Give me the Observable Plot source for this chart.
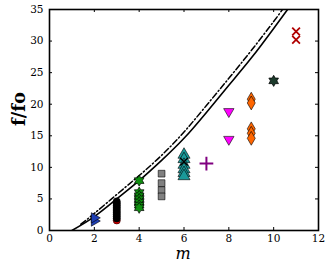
<!DOCTYPE html>
<html><head><meta charset="utf-8">
<script src="https://cdn.jsdelivr.net/npm/d3@7"></script>
<script src="https://cdn.jsdelivr.net/npm/@observablehq/plot@0.6"></script>
<style>body{margin:0;background:#fff} svg{display:block}</style>
</head><body><div id="chart"></div>
<script>
// theoretical curves
const mSolid = [1, 2, 3, 4, 5, 6, 7, 8, 9, 10, 10.62];
const fSolid = [0, 2.2, 5.0, 7.9, 11.1, 14.6, 18.7, 23.0, 27.3, 32.0, 35];
const mDash = [1.4, 2, 3, 4, 5, 6, 7, 8, 9, 10, 10.39];
const fDash = [1.0, 2.7, 5.7, 8.7, 11.9, 15.6, 19.8, 24.1, 28.5, 33.1, 35];

// measured points per mode number m
const modes = [2, 3, 4, 5, 6, 7, 8, 9, 10, 11];
const fBlue = [1.5, 2.0];
const fRed3 = [1.6];
const fBlack3 = [1.9, 2.2, 2.5, 2.8, 3.1, 3.4, 3.7, 4.0, 4.3, 4.6];
const fGreen4 = [7.9, 6.0, 5.5, 5.0, 4.5, 4.0, 3.6];
const fGray5 = [9.0, 7.5, 6.4, 5.4];
const fTeal6 = [12.0, 11.3, 10.4, 9.7, 9.1, 8.6];
const fBlack6 = [10.9];
const fPurple7 = [10.6];
const fMagenta8 = [18.8, 14.4];
const fOrange9 = [20.8, 20.2, 16.1, 15.4, 14.6];
const fDark10 = [23.7];
const fRed11 = [31.5, 30.2];

const xTicks = [0, 2, 4, 6, 8, 10, 12];
const yTicks = [0, 5, 10, 15, 20, 25, 30, 35];

function poly(pts) {
  return {draw(ctx, size) {
    const s = Math.sqrt(size);
    pts.forEach(([a, b], i) => i ? ctx.lineTo(a * s, b * s) : ctx.moveTo(a * s, b * s));
    ctx.closePath();
  }};
}
const triRight = poly([[0.75, 0], [-0.375, 0.65], [-0.375, -0.65]]);
const triDown = poly([[0, 0.72], [0.65, -0.4], [-0.65, -0.4]]);
const hexPts = [];
for (let i = 0; i < 12; i++) {
  const a = -Math.PI / 2 + i * Math.PI / 6;
  const r = i % 2 ? 0.7 / Math.sqrt(3) : 0.7;
  hexPts.push([r * Math.cos(a), r * Math.sin(a)]);
}
const hexagram = poly(hexPts);

const col = (vals, m) => vals.map(v => ({m, f: v}));
const curveS = mSolid.map((m, i) => ({m, f: fSolid[i]}));
const curveD = mDash.map((m, i) => ({m, f: fDash[i]}));

const W = 332, H = 265, ML = 49, MR = 14, MT = 9, MB = 35, TK = 3;
const innerW = W - ML - MR, innerH = H - MT - MB;

const chart = Plot.plot({
  width: W, height: H,
  marginLeft: ML, marginRight: MR, marginTop: MT, marginBottom: MB,
  x: {domain: [0, 12]},
  y: {domain: [0, 35]},
  style: {fontFamily: "DejaVu Serif", fontSize: "10.5px", color: "black", background: "white"},
  marks: [
    Plot.line(curveD, {x: "m", y: "f", curve: "natural", stroke: "black", strokeWidth: 1.5, strokeDasharray: "6,2.5,1.2,2.5", clip: true}),
    Plot.line(curveS, {x: "m", y: "f", curve: "natural", stroke: "black", strokeWidth: 1.6, clip: true}),
    Plot.dot(col(fBlue, modes[0]), {x: "m", y: "f", symbol: triRight, r: 4.5, fill: "#1f3fb4", stroke: "black", strokeWidth: 0.6}),
    Plot.dot(col(fRed3, modes[1]), {x: "m", y: "f", r: 3.6, fill: "#e00000", stroke: "black", strokeWidth: 0.5}),
    Plot.dot(col(fBlack3, modes[1]), {x: "m", y: "f", r: 3.6, fill: "black", stroke: "black", strokeWidth: 0.5}),
    Plot.dot(col(fGreen4, modes[2]), {x: "m", y: "f", symbol: hexagram, r: 4.5, fill: "#109010", stroke: "black", strokeWidth: 0.7}),
    Plot.dot(col(fGray5, modes[3]), {x: "m", y: "f", symbol: "square", r: 3.8, fill: "#808080", stroke: "black", strokeWidth: 0.6}),
    Plot.dot(col(fTeal6, modes[4]), {x: "m", y: "f", symbol: "triangle", r: 4.5, fill: "#1a9999", stroke: "black", strokeWidth: 0.6}),
    Plot.dot(col(fBlack6, modes[4]), {x: "m", y: "f", symbol: "times", r: 3.5, stroke: "black", strokeWidth: 1.4}),
    Plot.dot(col(fPurple7, modes[5]), {x: "m", y: "f", symbol: "plus", r: 4.5, stroke: "#800080", strokeWidth: 2}),
    Plot.dot(col(fMagenta8, modes[6]), {x: "m", y: "f", symbol: triDown, r: 4.5, fill: "#ff00ff", stroke: "black", strokeWidth: 0.6}),
    Plot.dot(col(fOrange9, modes[7]), {x: "m", y: "f", symbol: "diamond", r: 4.2, fill: "#ff6600", stroke: "black", strokeWidth: 0.6}),
    Plot.dot(col(fDark10, modes[8]), {x: "m", y: "f", symbol: hexagram, r: 4.5, fill: "#1c3b2c", stroke: "black", strokeWidth: 0.7}),
    Plot.dot(col(fRed11, modes[9]), {x: "m", y: "f", symbol: "times", r: 3.6, stroke: "#b00000", strokeWidth: 1.8}),
    // inward tick marks on all four sides
    Plot.ruleX(xTicks, {x: d => d, insetTop: innerH - TK, stroke: "black", strokeWidth: 1}),
    Plot.ruleX(xTicks, {x: d => d, insetBottom: innerH - TK, stroke: "black", strokeWidth: 1}),
    Plot.ruleY(yTicks, {y: d => d, insetRight: innerW - TK, stroke: "black", strokeWidth: 1}),
    Plot.ruleY(yTicks, {y: d => d, insetLeft: innerW - TK, stroke: "black", strokeWidth: 1}),
    Plot.frame({stroke: "black", strokeWidth: 1.6}),
    Plot.axisX({ticks: xTicks, anchor: "bottom", tickSize: 0, tickPadding: 4, label: null, fontSize: 10.5}),
    Plot.axisY({ticks: yTicks, anchor: "left", tickSize: 0, tickPadding: 6, label: null, fontSize: 10.5})
  ]
});
document.getElementById("chart").appendChild(chart);

const svg = d3.select(chart);
svg.append("text")
  .attr("transform", "translate(25,109) rotate(-90)")
  .attr("text-anchor", "middle")
  .attr("font-family", "DejaVu Serif")
  .attr("font-weight", "bold")
  .attr("font-size", 18)
  .attr("fill", "black")
  .text("f/fo");
svg.append("text")
  .attr("x", 183).attr("y", 259)
  .attr("text-anchor", "middle")
  .attr("font-family", "DejaVu Serif")
  .attr("font-style", "italic")
  .attr("font-size", 16)
  .attr("fill", "black")
  .text("m");
</script></body></html>
